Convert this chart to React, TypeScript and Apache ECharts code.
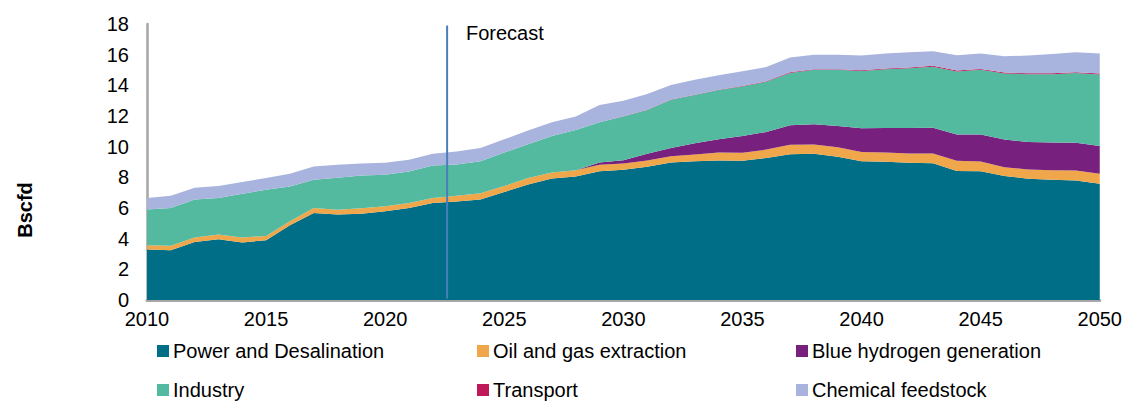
import React, { useEffect, useRef } from "react";
import * as echarts from "echarts";

const years = [2010,2011,2012,2013,2014,2015,2016,2017,2018,2019,2020,2021,2022,2023,2024,2025,2026,2027,2028,2029,2030,2031,2032,2033,2034,2035,2036,2037,2038,2039,2040,2041,2042,2043,2044,2045,2046,2047,2048,2049,2050];

const power = [3.29,3.25,3.79,3.96,3.75,3.9,4.87,5.67,5.57,5.63,5.78,6.0,6.32,6.43,6.56,7.04,7.54,7.93,8.06,8.4,8.49,8.69,8.97,9.05,9.1,9.08,9.26,9.51,9.53,9.34,9.05,9.01,8.95,8.92,8.42,8.4,8.08,7.91,7.84,7.8,7.58];
const oilGas = [0.28,0.28,0.28,0.31,0.32,0.28,0.26,0.33,0.32,0.35,0.33,0.32,0.33,0.37,0.41,0.39,0.41,0.39,0.41,0.42,0.41,0.41,0.41,0.44,0.52,0.52,0.55,0.61,0.61,0.62,0.61,0.61,0.6,0.63,0.66,0.63,0.58,0.6,0.63,0.65,0.65];
const blueH2 = [0,0,0,0,0,0,0,0,0,0,0,0,0,0,0,0,0,0,0,0.15,0.22,0.43,0.54,0.73,0.86,1.1,1.15,1.27,1.32,1.39,1.54,1.6,1.67,1.69,1.71,1.76,1.8,1.8,1.8,1.8,1.82];
const industry = [2.34,2.47,2.49,2.38,2.86,3.01,2.28,1.84,2.08,2.14,2.06,2.06,2.12,2.04,2.08,2.19,2.21,2.38,2.62,2.62,2.84,2.86,3.14,3.15,3.21,3.22,3.27,3.42,3.55,3.66,3.74,3.83,3.9,3.98,4.11,4.22,4.31,4.42,4.46,4.55,4.66];
const transport = [0,0,0,0,0,0,0,0,0,0,0,0,0,0,0,0,0,0,0,0.01,0.02,0.02,0.02,0.02,0.03,0.03,0.03,0.04,0.04,0.04,0.05,0.05,0.05,0.06,0.06,0.06,0.06,0.06,0.06,0.06,0.06];
const chemical = [0.74,0.8,0.76,0.78,0.76,0.76,0.82,0.87,0.85,0.78,0.78,0.76,0.76,0.84,0.87,0.86,0.89,0.89,0.87,1.11,1.02,1.02,0.94,0.97,0.94,0.97,0.93,0.96,0.95,0.95,0.95,0.97,0.99,0.94,1.0,1.0,1.07,1.15,1.26,1.3,1.3];

const seriesNames = ["Power and Desalination","Oil and gas extraction","Blue hydrogen generation","Industry","Transport","Chemical feedstock"];
const seriesValues = [power, oilGas, blueH2, industry, transport, chemical];
const colors = ["#006E87","#F0A64A","#77207E","#53BA9F","#C0195A","#A8B3DE"];

const forecastYear = 2022.6;
const FONT = "Liberation Sans, Arial, sans-serif";

export default function App() {
  const ref = useRef<HTMLDivElement>(null);
  useEffect(() => {
    if (!ref.current) return;
    const chart = echarts.init(ref.current, null, { renderer: "svg" });
    const colX = [157, 477, 796];
    const rowY = [351, 390];
    const legendGraphics: any[] = [];
    seriesNames.forEach((n, i) => {
      const cx = colX[i % 3];
      const cy = rowY[Math.floor(i / 3)];
      legendGraphics.push({
        type: "rect",
        shape: { x: cx, y: cy - 6, width: 12, height: 12 },
        style: { fill: colors[i] },
        silent: true,
      });
      legendGraphics.push({
        type: "text",
        x: cx + 16,
        y: cy,
        silent: true,
        style: { text: n, fill: "#000", font: `20px ${FONT}`, verticalAlign: "middle", align: "left" },
      });
    });
    const series: any[] = seriesNames.map((n, i) => ({
      name: n,
      type: "line",
      stack: "total",
      symbol: "none",
      xAxisIndex: 0,
      lineStyle: { width: 0 },
      itemStyle: { color: colors[i] },
      areaStyle: { color: colors[i], opacity: 1 },
      data: seriesValues[i],
      z: 2,
    }));
    series.push({
      name: "Forecast",
      type: "line",
      xAxisIndex: 1,
      symbol: "none",
      silent: true,
      lineStyle: { color: "#4A7EBB", width: 2 },
      data: [[forecastYear, 0.1], [forecastYear, 17.9]],
      z: 5,
    });
    const option: any = {
      animation: false,
      backgroundColor: "#ffffff",
      grid: { left: 147, right: 24, top: 24, bottom: 103, containLabel: false },
      xAxis: [
        {
          type: "category",
          data: years.map(String),
          boundaryGap: false,
          axisLine: { show: true, lineStyle: { color: "#A6A6A6", width: 3 } },
          axisTick: { show: false },
          splitLine: { show: false },
          axisLabel: { color: "#000", fontFamily: FONT, fontSize: 20, margin: 9, interval: 4 },
        },
        {
          type: "value",
          min: 2010,
          max: 2050,
          show: false,
        },
      ],
      yAxis: {
        type: "value",
        min: 0,
        max: 18,
        interval: 2,
        axisLine: { show: true, lineStyle: { color: "#A6A6A6", width: 2.5 } },
        axisTick: { show: false },
        splitLine: { show: false },
        axisLabel: { color: "#000", fontFamily: FONT, fontSize: 20, margin: 18 },
      },
      graphic: [
        {
          type: "text",
          left: 466,
          top: 23,
          style: { text: "Forecast", fill: "#000", font: `20px ${FONT}` },
        },
        {
          type: "text",
          x: 25,
          y: 210,
          rotation: Math.PI / 2,
          style: { text: "Bscfd", fill: "#000", font: `bold 20px ${FONT}`, align: "center", verticalAlign: "middle" },
        },
        ...legendGraphics,
      ],
      series,
    };
    chart.setOption(option);
    return () => chart.dispose();
  }, []);
  return (
    <div
      ref={ref}
      style={{ position: "absolute", left: 0, top: 0, width: 1125, height: 403, overflow: "hidden" }}
    />
  );
}
